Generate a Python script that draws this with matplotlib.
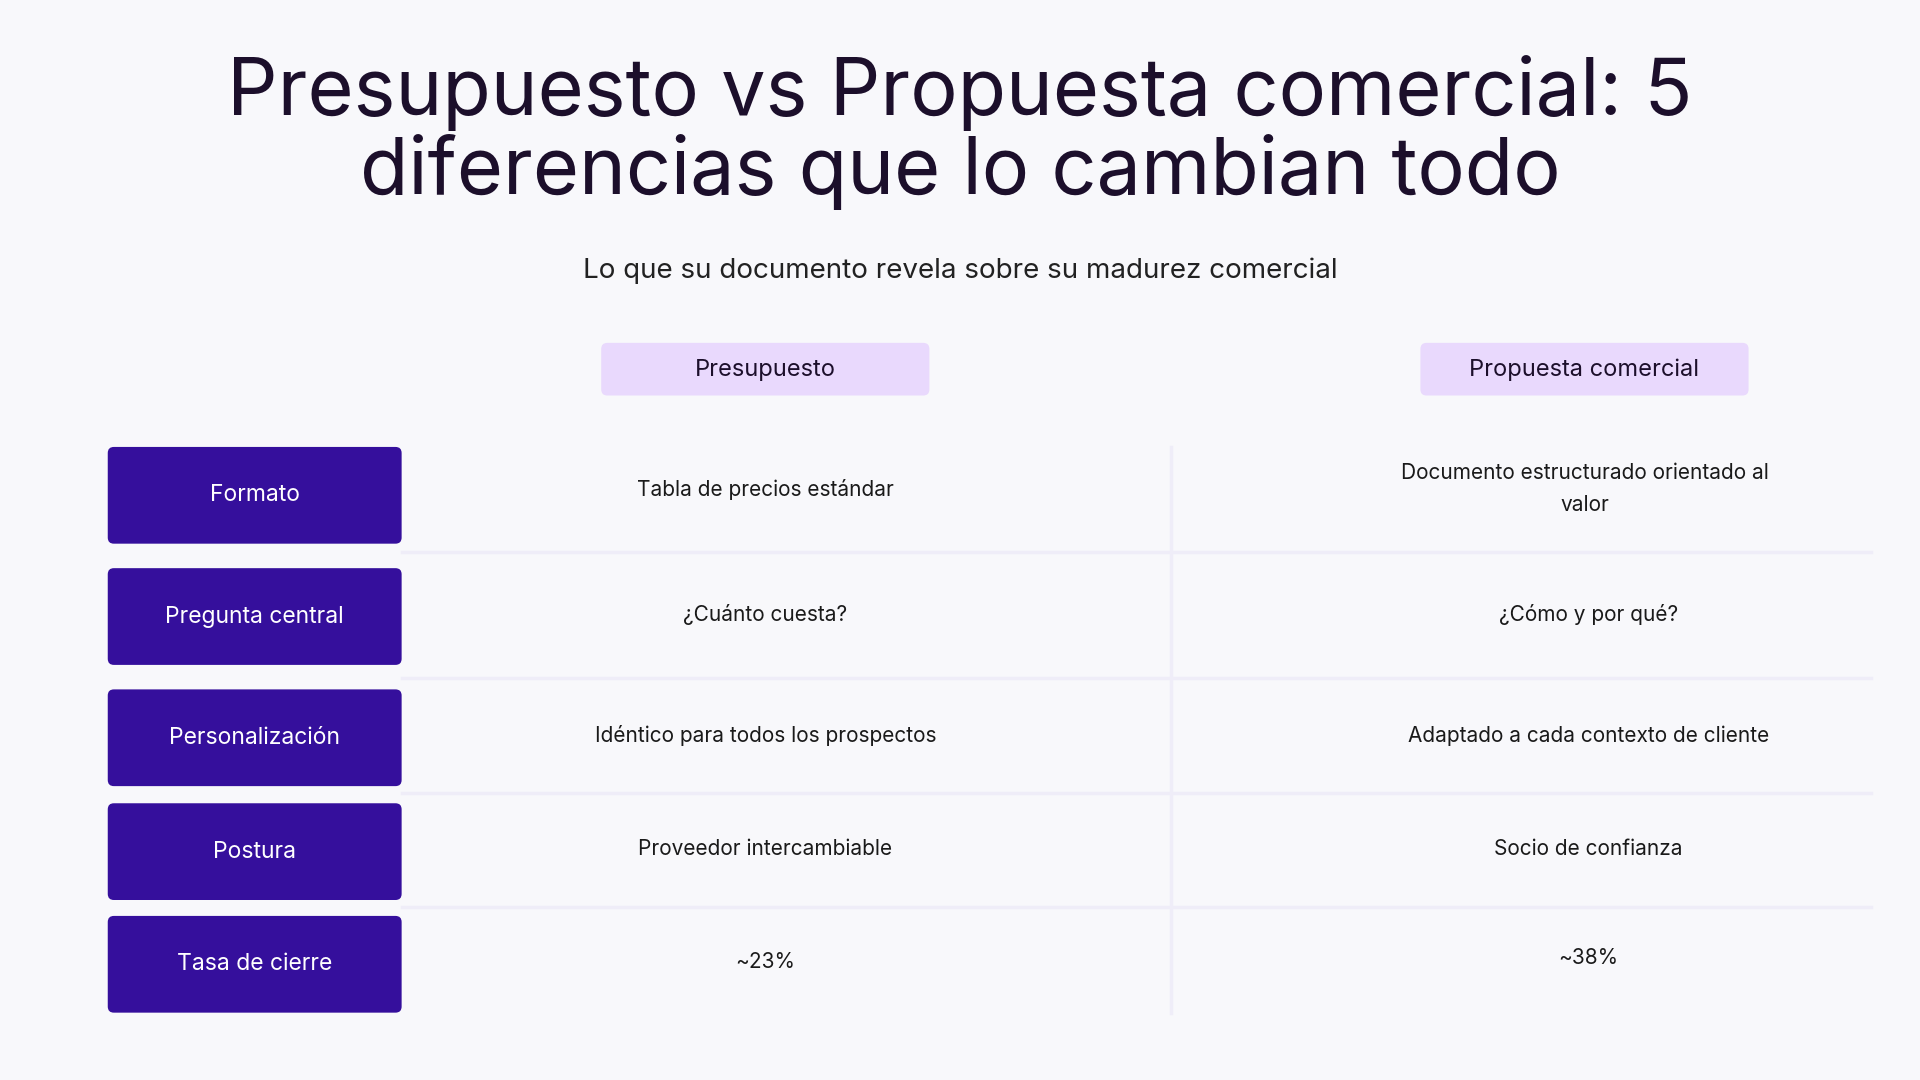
import matplotlib
matplotlib.use("Agg")
import matplotlib.pyplot as plt
from matplotlib.patches import FancyBboxPatch

plt.rcParams['font.family'] = ['Inter', 'DejaVu Sans']

title = "Presupuesto vs Propuesta comercial: 5\ndiferencias que lo cambian todo"
subtitle = "Lo que su documento revela sobre su madurez comercial"
columns = ["Presupuesto", "Propuesta comercial"]
rows = ["Formato", "Pregunta central", "Personalización", "Postura", "Tasa de cierre"]
presupuesto = ["Tabla de precios estándar", "¿Cuánto cuesta?", "Idéntico para todos los prospectos",
               "Proveedor intercambiable", "~23%"]
propuesta = ["Documento estructurado orientado al\nvalor", "¿Cómo y por qué?",
             "Adaptado a cada contexto de cliente", "Socio de confianza", "~38%"]

W, H = 1568, 882
bg = "#f8f8fb"
fig = plt.figure(figsize=(19.2, 10.8), dpi=100, facecolor=bg)
ax = fig.add_axes([0, 0, 1, 1])
ax.set_xlim(0, W); ax.set_ylim(H, 0); ax.axis("off")
ax.set_facecolor(bg)

ax.text(784, 108, title, ha="center", va="center", fontsize=57, color="#1c0f2b", linespacing=1.05)
ax.text(784, 221, subtitle, ha="center", va="center", fontsize=20, color="#222222")

col_x = [625, 1294]
for cx, c in zip(col_x, columns):
    ax.add_patch(FancyBboxPatch((cx - 134, 280), 268, 43, boxstyle="round,pad=0,rounding_size=5",
                                fc="#e9d9fd", ec="none"))
    ax.text(cx, 302, c, ha="center", va="center", fontsize=17, color="#1c0f2b")

tops = [365, 464, 563, 656, 748]
hgt = 79
for t, r, a, b in zip(tops, rows, presupuesto, propuesta):
    ax.add_patch(FancyBboxPatch((88, t), 240, hgt, boxstyle="round,pad=0,rounding_size=5",
                                fc="#350f9c", ec="none"))
    cy = t + hgt / 2
    ax.text(208, cy, r, ha="center", va="center", fontsize=16.5, color="white")
    ax.text(625, cy - 5 if t == 365 else cy - 2, a, ha="center", va="center", fontsize=15, color="#1a1a1a")
    ax.text(1297 if t != 365 else 1294, cy - 5 if t in (365, 748) else cy - 2, b, ha="center", va="center",
            fontsize=15, color="#1a1a1a", linespacing=1.75)

for y in [451, 554, 648, 741]:
    ax.plot([328, 1528], [y, y], color="#efedf8", lw=2.5)
ax.plot([956, 956], [365, 827], color="#efedf8", lw=2.5)

fig.savefig("out.png", dpi=100, facecolor=bg)
